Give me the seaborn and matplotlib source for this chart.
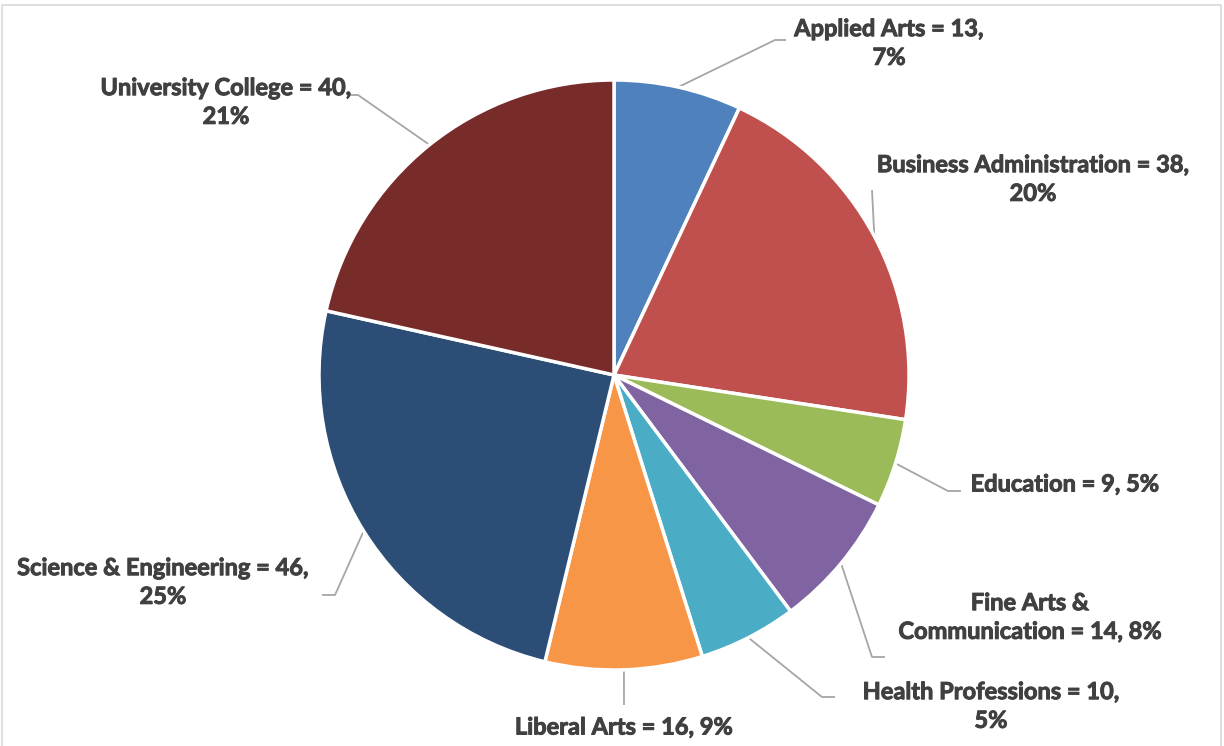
import numpy as np
import matplotlib
matplotlib.use("Agg")
import matplotlib.pyplot as plt
import matplotlib.patheffects as pe
import seaborn as sns

# ---- data ----
categories = ["Applied Arts", "Business Administration", "Education",
              "Fine Arts &\nCommunication", "Health Professions", "Liberal Arts",
              "Science & Engineering", "University College"]
values = [13, 38, 9, 14, 10, 16, 46, 40]
percent_labels = ["7%", "20%", "5%", "8%", "5%", "9%", "25%", "21%"]
colors = ["#4F81BD", "#C0504D", "#9BBB59", "#8064A2", "#4BACC6",
          "#F79646", "#2C4D75", "#772C2A"]

# label layout (pixel positions of the label block centres and leader bends)
label_text = [
    "Applied Arts = 13,\n7%",
    "Business Administration = 38,\n20%",
    "Education = 9, 5%",
    "Fine Arts &\nCommunication = 14, 8%",
    "Health Professions = 10,\n5%",
    "Liberal Arts = 16, 9%",
    "Science & Engineering = 46,\n25%",
    "University College = 40,\n21%",
]
label_pos = [(889, 43), (1033, 179), (1065, 484), (1030, 617),
             (991, 706), (624, 727), (163, 582), (226, 102)]
leader_bends = [[(775, 40), (786, 40)],
                [(872, 190)],
                [(948, 491), (961, 491)],
                [(872, 657), (885, 657)],
                [(822, 697), (835, 697)],
                [(624, 705)],
                [(335, 595), (322, 595)],
                [(358, 95), (350, 95)]]

sns.set_theme(style="white")
plt.rcParams["font.family"] = ["Lato", "DejaVu Sans"]

W, H = 1224, 746
fig = plt.figure(figsize=(W / 100, H / 100), dpi=100)
ax = fig.add_axes([0, 0, 1, 1])

cx, cy, R = 614, 375, 295
wedges, _ = ax.pie(values, colors=sns.color_palette(colors), startangle=-90,
                   counterclock=True, center=(cx, cy), radius=R,
                   wedgeprops=dict(edgecolor="white", linewidth=2.5))
ax.set_xlim(0, W)
ax.set_ylim(H, 0)
ax.set_aspect("equal")
ax.axis("off")

for w, txt, pos, bends in zip(wedges, label_text, label_pos, leader_bends):
    mid = np.deg2rad((w.theta1 + w.theta2) / 2)
    sx, sy = cx + R * np.cos(mid), cy + R * np.sin(mid)
    xs = [sx] + [b[0] for b in bends]
    ys = [sy] + [b[1] for b in bends]
    ax.plot(xs, ys, color="#A6A6A6", lw=1.3, solid_capstyle="butt", zorder=0.5)
    ax.text(pos[0], pos[1], txt, ha="center", va="center", multialignment="center",
            fontsize=17, fontweight="bold", color="#404040", linespacing=1.3,
            path_effects=[pe.withStroke(linewidth=0.7, foreground="#404040")])

# chart-area border
ax.plot([2, 2, 1221, 1221], [760, 5, 5, 760], color="#D9D9D9", lw=1.2)

fig.savefig("out.png", dpi=100)
